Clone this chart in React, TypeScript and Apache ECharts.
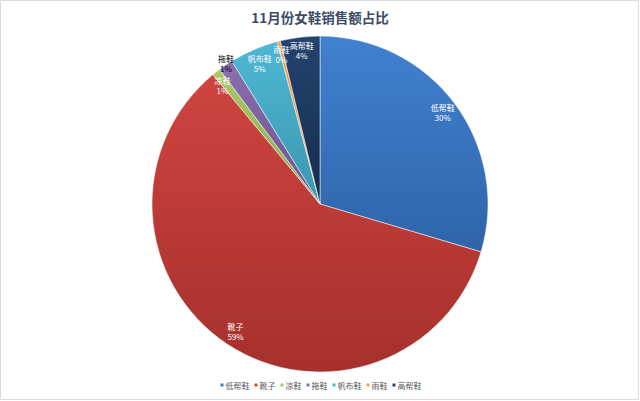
import React, { useEffect, useRef } from "react";
import * as echarts from "echarts";

const categories = ["低帮鞋", "靴子", "凉鞋", "拖鞋", "帆布鞋", "雨鞋", "高帮鞋"];
const values = [29.6, 59.4, 0.8, 1.4, 4.7, 0.3, 3.8];
const colorsTop = ["#4181d0", "#cf4440", "#a8c964", "#8a6fae", "#4fb7d2", "#fb9e4f", "#23446f"];
const colorsBottom = ["#2f64aa", "#a5302d", "#8aa94a", "#6d5290", "#3a97b0", "#e0822f", "#152c4d"];

export default function App() {
  const ref = useRef<HTMLDivElement>(null);
  useEffect(() => {
    if (!ref.current) return;
    const chart = echarts.init(ref.current, null, { renderer: "svg" });
    const grad = (i: number) =>
      new echarts.graphic.LinearGradient(0, 0, 0, 1, [
        { offset: 0, color: colorsTop[i] },
        { offset: 1, color: colorsBottom[i] },
      ]);
    const mainData = categories.map((n, i) => ({
      name: n,
      value: values[i],
      itemStyle: { color: grad(i) },
    }));
    const labelData = categories.map((n, i) => {
      const d: any = { name: n, value: values[i] };
      if (n === "拖鞋") d.label = { color: "#000", offset: [-8, -14] };
      if (n === "凉鞋") d.label = { offset: [-3, 2] };
      if (n === "高帮鞋") d.label = { offset: [0, -2] };
      if (n === "雨鞋") d.label = { offset: [-1, -1] };
      return d;
    });
    chart.setOption({
      animation: false,
      backgroundColor: "#fff",
      color: colorsTop,
      title: {
        text: "11月份女鞋销售额占比",
        left: "center",
        top: 5,
        textStyle: {
          fontFamily: "Noto Sans CJK SC",
          fontSize: 13.5,
          fontWeight: "bold",
          color: "#3b4a66",
        },
      },
      legend: {
        bottom: 7,
        left: "center",
        icon: "rect",
        itemWidth: 5,
        itemHeight: 5,
        itemGap: 3,
        data: categories.map((n, i) => ({ name: n, itemStyle: { color: colorsTop[i] } })),
        textStyle: { fontFamily: "Noto Sans CJK SC", fontSize: 8, color: "#595959", padding: [0, 0, 0, -4] },
      },
      graphic: [
        {
          type: "rect",
          shape: { x: 0.5, y: 0.5, width: 638, height: 399 },
          style: { fill: "none", stroke: "#d9dde3", lineWidth: 1 },
          silent: true,
        },
      ],
      series: [
        {
          type: "pie",
          center: [320, 204],
          radius: [0, 168],
          startAngle: 90,
          clockwise: true,
          data: mainData,
          label: { show: false },
          labelLine: { show: false },
          itemStyle: { borderColor: "#fff", borderWidth: 0.5 },
          emphasis: { disabled: true },
        },
        {
          type: "pie",
          center: [320, 204],
          radius: [132, 168],
          startAngle: 90,
          clockwise: true,
          silent: true,
          legendHoverLink: false,
          avoidLabelOverlap: false,
          labelLayout: { hideOverlap: false },
          data: labelData,
          itemStyle: { color: "rgba(0,0,0,0)", borderWidth: 0 },
          label: {
            show: true,
            position: "inside",
            color: "#fff",
            fontFamily: "Noto Sans CJK SC",
            fontSize: 8,
            lineHeight: 10,
            align: "center",
            formatter: (p: any) => `${p.name}\n${Math.round(p.percent)}%`,
          },
          labelLine: { show: false },
          emphasis: { disabled: true },
        },
      ],
    });
    return () => chart.dispose();
  }, []);
  return (
    <div
      ref={ref}
      style={{ position: "absolute", left: 0, top: 0, width: 640, height: 401 }}
    />
  );
}
